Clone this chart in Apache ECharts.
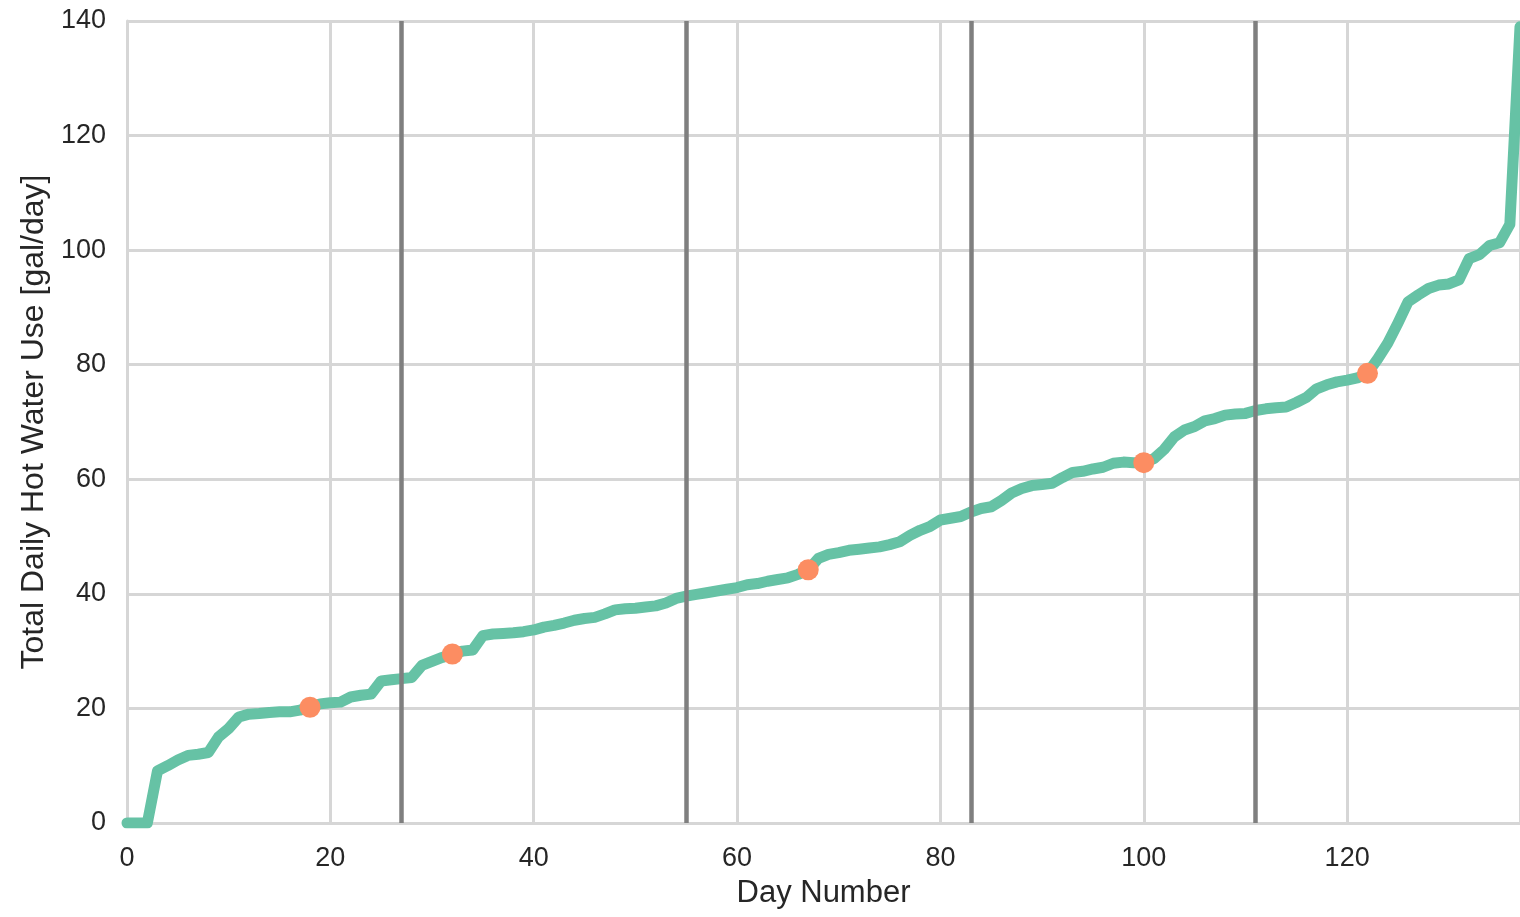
<!DOCTYPE html>
<html>
<head>
<meta charset="utf-8">
<script src="https://cdn.jsdelivr.net/npm/echarts@6/dist/echarts.min.js"></script>
<style>html,body{margin:0;padding:0;background:#fff;}#c{width:1520px;height:917px;}</style>
</head>
<body>
<div id="c"></div>
<script>
// Total daily hot water use, sorted, per day number 0..137
const usage = [0, 0, 0, 9.1, 10, 11, 11.8, 12, 12.3, 15,
  16.5, 18.5, 19, 19.1, 19.3, 19.4, 19.4, 19.7, 20.2, 20.8,
  21, 21.1, 22, 22.3, 22.5, 24.8, 25, 25.2, 25.4, 27.5,
  28.2, 28.9, 29.5, 30, 30.2, 32.7, 33, 33.1, 33.2, 33.4,
  33.7, 34.2, 34.5, 34.9, 35.4, 35.7, 35.9, 36.5, 37.2, 37.4,
  37.5, 37.7, 37.9, 38.4, 39.2, 39.6, 39.9, 40.2, 40.5, 40.8,
  41.1, 41.6, 41.8, 42.2, 42.5, 42.8, 43.4, 44.2, 46.2, 46.9,
  47.2, 47.6, 47.8, 48, 48.2, 48.6, 49.1, 50.2, 51.1, 51.8,
  52.9, 53.2, 53.5, 54.3, 54.9, 55.2, 56.3, 57.6, 58.4, 58.9,
  59.1, 59.3, 60.3, 61.2, 61.4, 61.8, 62.1, 62.8, 63, 62.9,
  62.9, 63.6, 65.2, 67.4, 68.6, 69.2, 70.2, 70.6, 71.2, 71.4,
  71.5, 72, 72.3, 72.5, 72.6, 73.4, 74.3, 75.8, 76.5, 77,
  77.3, 77.7, 78.5, 81, 83.8, 87.3, 91, 92.2, 93.3, 93.9,
  94.1, 94.8, 98.5, 99.2, 100.8, 101.3, 104.5, 139];
const markerDays = [18, 32, 67, 100, 122];
const markerValues = [20.2, 29.5, 44.2, 62.9, 78.5];
const dividerDays = [27, 55, 83, 111];
const xTicks = [0, 20, 40, 60, 80, 100, 120];
const yTicks = [0, 20, 40, 60, 80, 100, 120, 140];

const linePoints = usage.map((v, i) => [i, v]);
const markerPoints = markerDays.map((d, i) => [d, markerValues[i]]);

const chart = echarts.init(document.getElementById('c'));
const gridColor = '#d6d6d6';
const textColor = '#262626';
const tickFont = '"Liberation Sans", Arial, sans-serif';
const titleFont = '"Liberation Sans", Arial, sans-serif';

chart.setOption({
  animation: false,
  backgroundColor: '#ffffff',
  grid: { left: 127, right: -2, top: 21, bottom: 94, containLabel: false },
  xAxis: {
    type: 'value', min: 0, max: 137, interval: 20,
    name: 'Day Number', nameLocation: 'middle', nameGap: 55,
    nameTextStyle: { fontFamily: titleFont, fontSize: 31, color: textColor },
    axisLine: { show: true, lineStyle: { color: gridColor, width: 3 } },
    axisTick: { show: false },
    axisLabel: { fontFamily: tickFont, fontSize: 27, color: textColor, margin: 22, showMaxLabel: false,
      formatter: v => xTicks.includes(v) ? String(v) : '' },
    splitLine: { show: true, lineStyle: { color: gridColor, width: 3 } }
  },
  yAxis: {
    type: 'value', min: 0, max: 140, interval: 20,
    name: 'Total Daily Hot Water Use [gal/day]', nameLocation: 'middle', nameGap: 76,
    nameTextStyle: { fontFamily: titleFont, fontSize: 32, color: textColor },
    axisLine: { show: true, lineStyle: { color: gridColor, width: 3 } },
    axisTick: { show: false },
    axisLabel: { fontFamily: tickFont, fontSize: 27, color: textColor, margin: 21,
      formatter: v => yTicks.includes(v) ? String(v) : '' },
    splitLine: { show: true, lineStyle: { color: gridColor, width: 3 } }
  },
  series: [
    {
      type: 'line', data: linePoints, showSymbol: false, symbol: 'none', clip: true,
      lineStyle: { color: '#66c2a5', width: 11, join: 'round', cap: 'round' },
      z: 2, silent: true
    },
    {
      type: 'line', data: [], z: 3, silent: true,
      markLine: {
        silent: true, symbol: ['none', 'none'], label: { show: false },
        lineStyle: { color: '#7f7f7f', width: 4.5, type: 'solid' },
        data: dividerDays.map(d => ({ xAxis: d }))
      }
    },
    {
      type: 'scatter', data: markerPoints, symbol: 'circle', symbolSize: 21,
      itemStyle: { color: '#fc8d62', opacity: 1 }, z: 4, silent: true
    }
  ]
});
</script>
</body>
</html>
